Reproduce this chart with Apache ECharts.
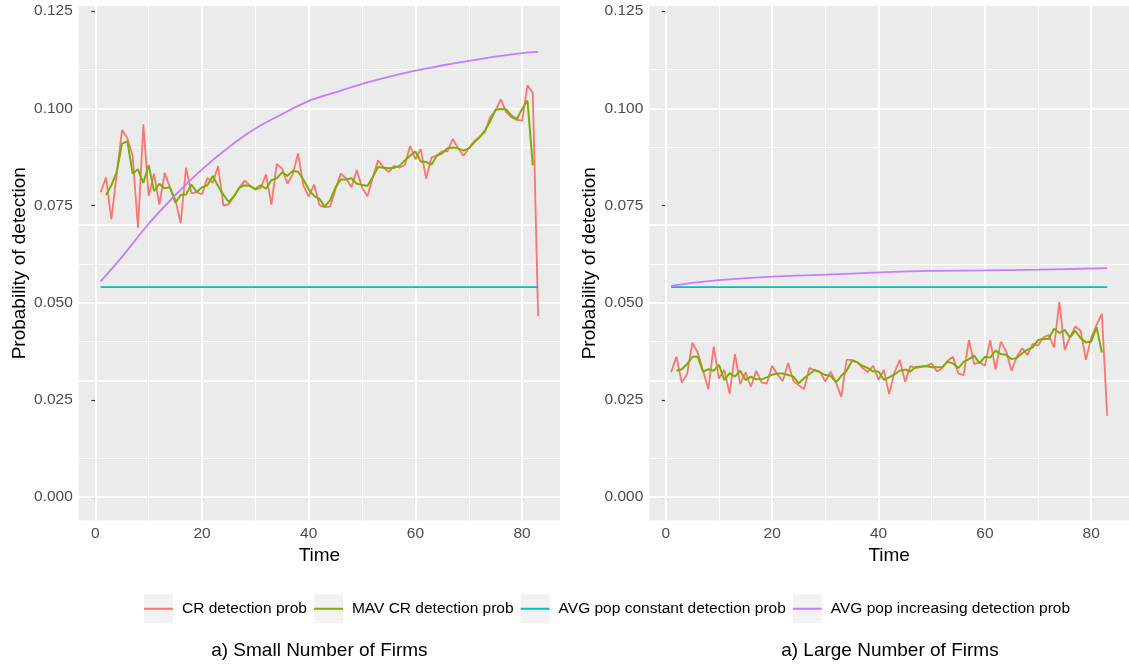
<!DOCTYPE html>
<html>
<head>
<meta charset="utf-8">
<title>Probability of detection</title>
<script src="https://cdn.jsdelivr.net/npm/echarts@6/dist/echarts.min.js"></script>
<style>
  html, body { margin: 0; padding: 0; background: #fff; }
  #chart { width: 1129px; height: 666px; }
</style>
</head>
<body>
<div id="chart"></div>
<script>
// period index 1..83
const time = Array.from({ length: 83 }, (_, i) => i + 1)

// a) small number of firms
const smallCR = [
    0.0784, 0.0822, 0.0714, 0.0830, 0.0944, 0.0923, 0.0877, 0.0692, 0.0959, 0.0774,
    0.0832, 0.0752, 0.0834, 0.0796, 0.0765, 0.0705, 0.0847, 0.0782, 0.0784, 0.0779,
    0.0821, 0.0808, 0.0851, 0.0750, 0.0753, 0.0774, 0.0796, 0.0814, 0.0801, 0.0791,
    0.0795, 0.0830, 0.0752, 0.0857, 0.0845, 0.0806, 0.0830, 0.0884, 0.0801, 0.0773,
    0.0804, 0.0751, 0.0746, 0.0747, 0.0791, 0.0832, 0.0820, 0.0797, 0.0841, 0.0796,
    0.0774, 0.0822, 0.0866, 0.0849, 0.0836, 0.0852, 0.0847, 0.0854, 0.0903, 0.0869,
    0.0895, 0.0819, 0.0873, 0.0879, 0.0889, 0.0889, 0.0921, 0.0897, 0.0878, 0.0897,
    0.0915, 0.0927, 0.0938, 0.0977, 0.0994, 0.1023, 0.0990, 0.0977, 0.0970, 0.0968,
    0.1059, 0.1039, 0.0465
]
const smallMAV = [
    null,   0.0777, 0.0802, 0.0836, 0.0909, 0.0915, 0.0832, 0.0843, 0.0808, 0.0854,
    0.0787, 0.0806, 0.0794, 0.0797, 0.0757, 0.0777, 0.0778, 0.0804, 0.0785, 0.0797,
    0.0802, 0.0826, 0.0800, 0.0778, 0.0759, 0.0774, 0.0796, 0.0802, 0.0800, 0.0792,
    0.0802, 0.0793, 0.0815, 0.0820, 0.0835, 0.0826, 0.0839, 0.0837, 0.0817, 0.0791,
    0.0775, 0.0767, 0.0747, 0.0763, 0.0796, 0.0817, 0.0817, 0.0820, 0.0806, 0.0803,
    0.0800, 0.0823, 0.0849, 0.0847, 0.0846, 0.0847, 0.0852, 0.0866, 0.0878, 0.0889,
    0.0863, 0.0862, 0.0855, 0.0878, 0.0884, 0.0897, 0.0899, 0.0897, 0.0891, 0.0897,
    0.0912, 0.0925, 0.0942, 0.0966, 0.0996, 0.0998, 0.0997, 0.0981, 0.0972, 0.0998,
    0.1020, 0.0853, null
]
const smallIncT = [1, 5, 10, 15, 20, 25, 30, 35, 40, 45, 50, 55, 60, 65, 70, 75, 80, 83]
const smallIncV = [0.0555, 0.0618, 0.0703, 0.0777, 0.0843, 0.0900, 0.0948, 0.0985, 0.1019,
    0.1041, 0.1063, 0.1081, 0.1097, 0.1110, 0.1122, 0.1133, 0.1142, 0.1145]

// a) large number of firms
const largeCR = [
    0.0321, 0.0361, 0.0295, 0.0316, 0.0397, 0.0372, 0.0325, 0.0278, 0.0387, 0.0305,
    0.0327, 0.0266, 0.0368, 0.0291, 0.0321, 0.0284, 0.0325, 0.0295, 0.0292, 0.0338,
    0.0315, 0.0299, 0.0345, 0.0299, 0.0288, 0.0278, 0.0332, 0.0327, 0.0323, 0.0297,
    0.0323, 0.0295, 0.0258, 0.0353, 0.0353, 0.0347, 0.0332, 0.0322, 0.0338, 0.0302,
    0.0327, 0.0265, 0.0321, 0.0353, 0.0297, 0.0337, 0.0332, 0.0335, 0.0337, 0.0344,
    0.0323, 0.0332, 0.0351, 0.0361, 0.0318, 0.0314, 0.0404, 0.0342, 0.0347, 0.0338,
    0.0404, 0.0328, 0.0400, 0.0375, 0.0325, 0.0361, 0.0383, 0.0366, 0.0394, 0.0390,
    0.0411, 0.0417, 0.0385, 0.0502, 0.0379, 0.0411, 0.0439, 0.0428, 0.0353, 0.0411,
    0.0443, 0.0472, 0.0209
]
const largeMAV = [
    null,   0.0325, 0.0329, 0.0342, 0.0361, 0.0361, 0.0323, 0.0329, 0.0325, 0.0340,
    0.0301, 0.0319, 0.0310, 0.0325, 0.0301, 0.0310, 0.0303, 0.0303, 0.0308, 0.0315,
    0.0318, 0.0318, 0.0314, 0.0310, 0.0293, 0.0306, 0.0316, 0.0327, 0.0321, 0.0314,
    0.0312, 0.0295, 0.0312, 0.0325, 0.0351, 0.0347, 0.0338, 0.0332, 0.0323, 0.0323,
    0.0302, 0.0308, 0.0316, 0.0325, 0.0328, 0.0323, 0.0335, 0.0336, 0.0337, 0.0334,
    0.0334, 0.0335, 0.0348, 0.0344, 0.0332, 0.0348, 0.0355, 0.0364, 0.0344, 0.0361,
    0.0359, 0.0377, 0.0368, 0.0366, 0.0355, 0.0358, 0.0370, 0.0379, 0.0385, 0.0404,
    0.0407, 0.0407, 0.0433, 0.0422, 0.0430, 0.0411, 0.0428, 0.0409, 0.0398, 0.0400,
    0.0437, 0.0372, null
]
const largeIncT = [1, 5, 10, 20, 30, 40, 50, 60, 70, 80, 83]
const largeIncV = [0.0543, 0.0551, 0.0558, 0.0567, 0.0572, 0.0578, 0.0582, 0.0583, 0.0585, 0.0588, 0.0589]

// constant benchmark, same in both panels
const constT = [1, 83]
const constV = [0.054, 0.054]

const xTicks = [0, 20, 40, 60, 80]
const xMinor = [10, 30, 50, 70]
const yTicks = [0, 0.025, 0.05, 0.075, 0.1, 0.125]
const yMinor = [0.0125, 0.0375, 0.0625, 0.0875, 0.1125]

const seriesNames = ['CR detection prob', 'MAV CR detection prob', 'AVG pop constant detection prob', 'AVG pop increasing detection prob']
const colors = ['#F8766D', '#7CAE00', '#00BFC4', '#C77CFF']
const subtitles = ['a) Small Number of Firms', 'a) Large Number of Firms']

const FONT = '"Liberation Sans", Arial, sans-serif'
const pairs = (xs, ys) => xs.map((x, i) => [x, ys[i]])

const panels = [
    { left: 78.8, cr: smallCR, mav: smallMAV, incT: smallIncT, incV: smallIncV },
    { left: 649.3, cr: largeCR, mav: largeMAV, incT: largeIncT, incV: largeIncV }
]
const panelTop = 6
const panelW = 481.2
const panelH = 514.5

const gridLines = [
    ...xTicks.map(v => ({ xAxis: v, lineStyle: { width: 2 } })),
    ...xMinor.map(v => ({ xAxis: v, lineStyle: { width: 1 } })),
    ...yTicks.map(v => ({ yAxis: v, lineStyle: { width: 2 } })),
    ...yMinor.map(v => ({ yAxis: v, lineStyle: { width: 1 } }))
]

const grid = panels.map(p => ({
    left: p.left, top: panelTop, width: panelW, height: panelH,
    show: true, backgroundColor: '#EBEBEB', borderWidth: 0
}))

const xAxis = panels.map((p, i) => ({
    type: 'value', gridIndex: i, min: -3.1, max: 87.1,
    axisLine: { show: false },
    splitLine: { show: false },
    axisTick: { show: true, length: 4, customValues: xTicks, lineStyle: { color: '#333333', width: 1.2 } },
    axisLabel: { customValues: xTicks, color: '#4D4D4D', fontSize: 15.5, fontFamily: FONT, margin: 5 },
    name: 'Time', nameLocation: 'middle', nameGap: 26,
    nameTextStyle: { color: '#000', fontSize: 19, fontFamily: FONT }
}))

const yAxis = panels.map((p, i) => ({
    type: 'value', gridIndex: i, min: -0.006, max: 0.1263,
    axisLine: { show: false },
    splitLine: { show: false },
    axisTick: { show: true, length: 4, customValues: yTicks, lineStyle: { color: '#333333', width: 1.2 } },
    axisLabel: {
        customValues: yTicks, color: '#4D4D4D', fontSize: 15.5, fontFamily: FONT, margin: 6,
        formatter: v => v.toFixed(3)
    },
    name: 'Probability of detection', nameLocation: 'middle', nameGap: 50,
    nameTextStyle: { color: '#000', fontSize: 19, fontFamily: FONT }
}))

const lineSeries = (name, data, i, color, width) => ({
    name, type: 'line', xAxisIndex: i, yAxisIndex: i, data,
    symbol: 'none', showSymbol: false, color,
    lineStyle: { color, width }, z: 3, silent: true
})

const series = []
panels.forEach((p, i) => {
    series.push(lineSeries(seriesNames[0], pairs(time, p.cr), i, colors[0], 1.8))
    series.push(lineSeries(seriesNames[1], pairs(time, p.mav), i, colors[1], 2))
    const c = lineSeries(seriesNames[2], pairs(constT, constV), i, colors[2], 1.8)
    // panel grid lines (major + minor) drawn under the data
    c.markLine = {
        silent: true, symbol: ['none', 'none'], z: 1, animation: false,
        label: { show: false }, emphasis: { disabled: true },
        lineStyle: { color: '#FFFFFF', type: 'solid' },
        data: gridLines
    }
    series.push(c)
    series.push(Object.assign(lineSeries(seriesNames[3], pairs(p.incT, p.incV), i, colors[3], 1.8), { smooth: 0.3 }))
})

// grey legend key boxes, laid out like the legend items
const legendLeft = 144
const legendKey = 29
const legendGap = 7
const legendTextPad = 4
const legendFontSize = 15.5
const legendCenterY = 608.5
const measure = document.createElement('canvas').getContext('2d')
measure.font = legendFontSize + 'px ' + FONT
let kx = legendLeft
const keyBoxes = seriesNames.map(n => {
    const box = {
        type: 'rect', silent: true, z: 0,
        shape: { x: kx, y: legendCenterY - legendKey / 2, width: legendKey, height: legendKey },
        style: { fill: '#F2F2F2' }
    }
    kx += legendKey + 5 + legendTextPad + measure.measureText(n).width + legendGap
    return box
})

const subtitleText = subtitles.map((t, i) => ({
    type: 'text', silent: true,
    x: panels[i].left + panelW / 2, y: 650.5,
    style: { text: t, font: '19px ' + FONT, fill: '#000', align: 'center', verticalAlign: 'middle' }
}))

const chart = echarts.init(document.getElementById('chart'), null, { renderer: 'canvas' })
chart.setOption({
    animation: false,
    backgroundColor: '#FFFFFF',
    grid,
    xAxis,
    yAxis,
    legend: {
        data: seriesNames,
        left: legendLeft, top: legendCenterY - legendFontSize / 2, padding: 0,
        orient: 'horizontal',
        icon: 'rect', itemWidth: legendKey, itemHeight: 2, itemGap: legendGap,
        selectedMode: false,
        textStyle: { fontSize: legendFontSize, fontFamily: FONT, color: '#000', padding: [0, 0, 0, legendTextPad] }
    },
    graphic: [...keyBoxes, ...subtitleText],
    series
})

window.addEventListener('resize', () => chart && chart.resize())
</script>
</body>
</html>
